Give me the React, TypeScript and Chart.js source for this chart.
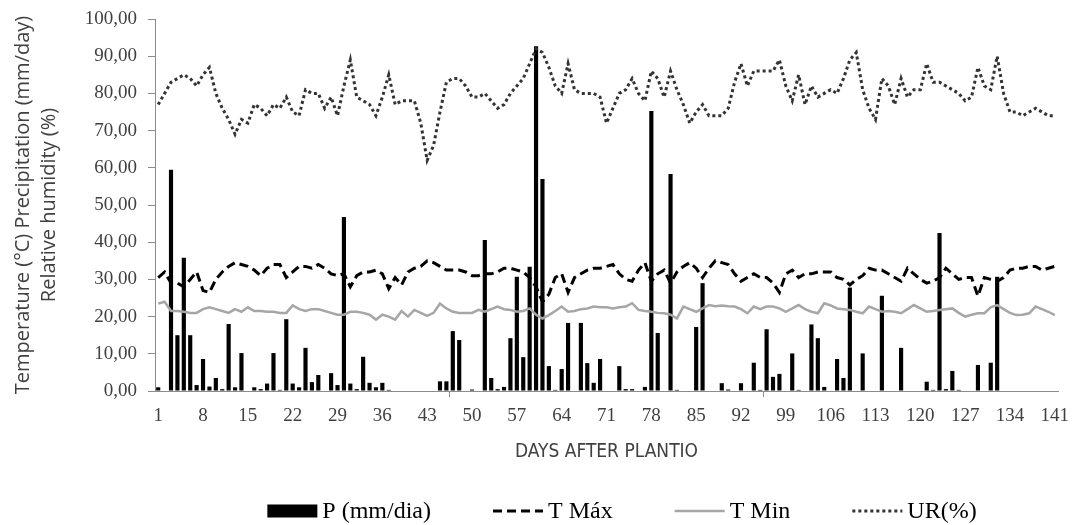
import { useEffect, useRef } from 'react';
import { Chart, registerables } from 'chart.js';

Chart.register(...registerables);

// Days after planting (category axis)
const days: string[] = Array.from({ length: 141 }, (_, i) => String(i + 1));

// Daily precipitation (mm/day)
const precipitation: number[] = [
  1, 0, 59.5, 15, 35.8, 15, 1.6, 8.6, 1.2, 3.5,
  0.5, 18, 1, 10.2, 0, 1, 0.5, 2, 10.2, 0.3,
  19.3, 2, 1, 11.6, 2.4, 4.3, 0, 4.8, 1.6, 46.8,
  2, 0.5, 9.2, 2.2, 1, 2.2, 0.3, 0, 0, 0,
  0, 0, 0, 0, 2.6, 2.6, 16.1, 13.7, 0, 0.4,
  0, 40.6, 3.5, 0.5, 1.1, 14.2, 30.7, 9.1, 33.4, 92.7,
  57, 6.7, 0.3, 5.9, 18.3, 0, 18.3, 7.5, 2.2, 8.6,
  0, 0, 6.7, 0.5, 0.5, 0, 1.1, 75.3, 15.6, 0,
  58.3, 0.3, 0, 0, 17.2, 29, 0, 0, 2.1, 0.4,
  0, 2.1, 0, 7.6, 0.3, 16.6, 3.8, 4.6, 0, 10.1,
  0.3, 0, 17.9, 14.2, 1.1, 0, 8.6, 3.5, 27.8, 0,
  10.1, 0, 0, 25.6, 0, 0, 11.6, 0, 0, 0,
  2.5, 0.3, 42.5, 0.5, 5.4, 0.3, 0, 0, 7, 0,
  7.6, 30.7, 0, 0, 0, 0, 0, 0, 0, 0, 0,
];

// Daily maximum temperature (°C)
const tempMax: number[] = [
  30.5, 32, 29, 29, 28, 30, 32, 27, 26.5, 30,
  32, 33.5, 34.5, 34, 33.5, 32.5, 31, 33, 34, 34,
  30.5, 32, 33.5, 33.5, 33, 34, 33, 31.5, 31, 31.5,
  28, 31, 32, 32, 32.5, 31.5, 27.5, 30.5, 28.5, 32,
  33, 33.5, 35, 34.5, 33.5, 32.5, 32.5, 32.5, 32, 31,
  31, 31.5, 31.5, 32, 33, 33, 32.5, 32, 30.5, 28,
  24, 26, 30.5, 31.5, 26.5, 30.5, 31.5, 32.5, 33, 33,
  33.5, 34, 31.5, 30, 29.5, 32.5, 34.5, 29.5, 31.5, 32.5,
  29, 32, 33.5, 34.5, 33, 30.5, 33, 35, 34.5, 34,
  31.5, 29.5, 30.5, 31.5, 30.5, 30.5, 29, 26.5, 31.5, 32.5,
  30.5, 31.5, 31.5, 32, 32, 32, 30.5, 30, 28.5, 30,
  31, 33, 32.5, 32.5, 31.5, 30.5, 29.5, 33, 31.5, 30,
  29, 29.5, 30.5, 33, 31.5, 30, 30.5, 30.5, 25.5, 30.5,
  30, 29.5, 30.5, 32.5, 33, 33, 33.5, 33.5, 32.5, 33, 33.5,
];

// Daily minimum temperature (°C)
const tempMin: number[] = [
  23.5, 24, 21.5, 21.5, 21.3, 21, 21, 22, 22.5, 22,
  21.5, 21, 22, 21.3, 22.5, 21.5, 21.5, 21.3, 21.3, 21,
  21, 23, 22, 21.5, 22, 22, 21.5, 21, 20.5, 20.5,
  21.3, 21.3, 21, 20.5, 19.2, 20.5, 20, 19.2, 21.5, 20,
  21.8, 21, 20.2, 21, 23.5, 22.2, 21.3, 21, 21, 21,
  21.8, 21.3, 22, 22.7, 22, 21.8, 21.3, 21.5, 22.2, 20.5,
  19.5, 20.4, 21.5, 22.7, 21.3, 21.5, 22, 22.2, 22.7, 22.5,
  22.5, 22.2, 22.5, 22.7, 23.6, 21.8, 21.5, 21.3, 21, 20.9,
  20.5, 19.5, 22.7, 22, 21.3, 22.2, 23.1, 22.8, 23, 22.8,
  22.7, 22, 20.9, 22.7, 22, 22.7, 22.7, 22.2, 21.3, 22.2,
  23.1, 22, 21.3, 20.9, 23.6, 23, 22.2, 22, 21.8, 21.3,
  20.9, 22.7, 22, 21.3, 21.5, 21.3, 20.9, 22, 23.1, 22.2,
  21.3, 21.5, 21.8, 22, 22.2, 21, 20, 20.5, 20.9, 20.9,
  22.5, 23.1, 22, 21, 20.4, 20.5, 20.9, 22.7, 22, 21.3, 20.4,
];

// Daily relative humidity (%)
const humidity: number[] = [
  77, 80, 83, 84, 85, 84, 82, 85, 87, 80,
  76, 73, 69, 73, 72, 77, 76, 74, 77, 76,
  79, 75, 74, 81, 80, 80, 76, 79, 74, 82,
  89, 79, 78, 77, 74, 79, 85, 77, 78, 78,
  78, 72, 62, 66, 75, 83, 84, 84, 82, 79,
  79, 80, 78, 76, 77, 80, 82, 84, 88, 92,
  91, 87, 82, 80, 88, 81, 80, 80, 80, 79,
  72, 76, 80, 81, 84, 80, 78, 86, 84, 79,
  86, 81, 77, 72, 75, 77, 74, 74, 74, 76,
  83, 88, 82, 86, 86, 86, 86, 89, 82, 78,
  85, 77, 82, 79, 80, 81, 80, 84, 89, 91,
  81, 76, 73, 84, 82, 77, 84, 79, 81, 81,
  88, 83, 83, 82, 81, 80, 78, 79, 87, 82,
  81, 90, 80, 75, 75, 74, 75, 76, 75, 74, 74,
];

const seriesLabels = ['P (mm/dia)', 'T Máx', 'T Min', 'UR(%)'];
const yTitleLines = ['Temperature (°C) Precipitation (mm/day)', 'Relative humidity (%)'];
const xTitle = 'DAYS AFTER PLANTIO';
const labelEvery = 7;

const AXIS_GREY = '#8c8c8c';
const TEXT_GREY = '#404040';
const SERIF = '"Liberation Serif", "Times New Roman", serif';
const NARROW = '"Liberation Sans Narrow", "DejaVu Sans Condensed", "Liberation Sans", sans-serif';
const SANS = '"Open Sans", "Noto Sans", sans-serif';

// Legend row drawn under the axis title: sample mark followed by the series name
const bottomLegend = {
  id: 'bottomLegend',
  afterDraw(chart: any) {
    const ctx: CanvasRenderingContext2D = chart.ctx;
    const sampleW = 50;
    const textGap = 5;
    const itemGap = 62;
    const cy = 511;
    const centerX = 622;
    ctx.save();
    ctx.font = `24px ${SERIF}`;
    ctx.textBaseline = 'middle';
    ctx.textAlign = 'left';
    const items = chart.data.datasets.map((ds: any) => ({
      ds,
      w: sampleW + textGap + ctx.measureText(ds.label).width,
    }));
    const total = items.reduce((s: number, it: any) => s + it.w, 0) + itemGap * (items.length - 1);
    let x = centerX - total / 2;
    for (const { ds, w } of items) {
      if (ds.type === 'bar') {
        ctx.fillStyle = ds.backgroundColor;
        ctx.fillRect(x, cy - 6.5, sampleW, 13);
      } else {
        ctx.beginPath();
        ctx.setLineDash(ds.borderDash || []);
        ctx.lineWidth = ds.borderWidth;
        ctx.strokeStyle = ds.borderColor;
        ctx.moveTo(x, cy);
        ctx.lineTo(x + sampleW, cy);
        ctx.stroke();
        ctx.setLineDash([]);
      }
      ctx.fillStyle = '#000';
      ctx.fillText(ds.label, x + sampleW + textGap, cy + 1);
      x += w + itemGap;
    }
    ctx.restore();
  },
};

export default function App() {
  const canvasRef = useRef<HTMLCanvasElement>(null);

  useEffect(() => {
    if (!canvasRef.current) return;
    const chart = new Chart(canvasRef.current, {
      type: 'bar',
      data: {
        labels: days,
        datasets: [
          {
            type: 'bar',
            label: seriesLabels[0],
            data: precipitation,
            backgroundColor: '#000000',
            borderWidth: 0,
            barPercentage: 0.65,
            categoryPercentage: 1,
            order: 1,
          },
          {
            type: 'line',
            label: seriesLabels[1],
            data: tempMax,
            borderColor: '#000000',
            borderWidth: 3,
            borderDash: [9, 5],
            pointRadius: 0,
            tension: 0,
            fill: false,
            order: 0,
          },
          {
            type: 'line',
            label: seriesLabels[2],
            data: tempMin,
            borderColor: '#a6a6a6',
            borderWidth: 2.5,
            pointRadius: 0,
            tension: 0,
            fill: false,
            order: 0,
          },
          {
            type: 'line',
            label: seriesLabels[3],
            data: humidity,
            borderColor: '#333333',
            borderWidth: 3,
            borderDash: [3, 3],
            pointRadius: 0,
            tension: 0,
            fill: false,
            order: 0,
          },
        ] as any,
      },
      options: {
        animation: false,
        responsive: false,
        devicePixelRatio: 1,
        layout: { padding: { left: 0, right: 14, top: 19, bottom: 62 } },
        plugins: {
          legend: { display: false },
          tooltip: { enabled: false },
        },
        scales: {
          x: {
            type: 'category',
            offset: true,
            grid: {
              drawOnChartArea: false,
              offset: true,
              tickLength: 6,
              tickWidth: 1,
              tickColor: (c: any) => (c.index % labelEvery === 0 ? AXIS_GREY : 'rgba(0,0,0,0)'),
            },
            border: { color: AXIS_GREY, width: 1 },
            ticks: {
              autoSkip: false,
              maxRotation: 0,
              minRotation: 0,
              padding: 8,
              color: TEXT_GREY,
              font: { family: SERIF, size: 19 },
              callback: (_v: any, i: number) => (i % labelEvery === 0 ? days[i] : null),
            },
            title: {
              display: true,
              text: xTitle,
              color: TEXT_GREY,
              font: { family: NARROW, size: 19 },
              padding: 0,
            },
            afterFit: (s: any) => {
              s.height = 72;
              s.paddingLeft = 0;
              s.paddingRight = 0;
            },
          },
          y: {
            min: 0,
            max: 100,
            grid: { drawOnChartArea: false, tickLength: 7, tickColor: AXIS_GREY },
            border: { color: AXIS_GREY, width: 1 },
            ticks: {
              stepSize: 10,
              padding: 11,
              color: TEXT_GREY,
              font: { family: SERIF, size: 19 },
              callback: (v: any) => Number(v).toFixed(2).replace('.', ','),
            },
            title: {
              display: true,
              text: yTitleLines,
              color: TEXT_GREY,
              font: { family: SANS, size: 20, lineHeight: 1.3 },
              padding: { top: 10, bottom: 0 },
            },
            afterFit: (s: any) => {
              s.width = 155;
              s.paddingTop = 0;
              s.paddingBottom = 0;
            },
          },
        },
      } as any,
      plugins: [bottomLegend],
    });
    return () => chart.destroy();
  }, []);

  return (
    <div style={{ position: 'fixed', left: 0, top: 0, width: 1072, height: 525, background: '#ffffff' }}>
      <canvas ref={canvasRef} width={1072} height={525} style={{ display: 'block' }} />
    </div>
  );
}
